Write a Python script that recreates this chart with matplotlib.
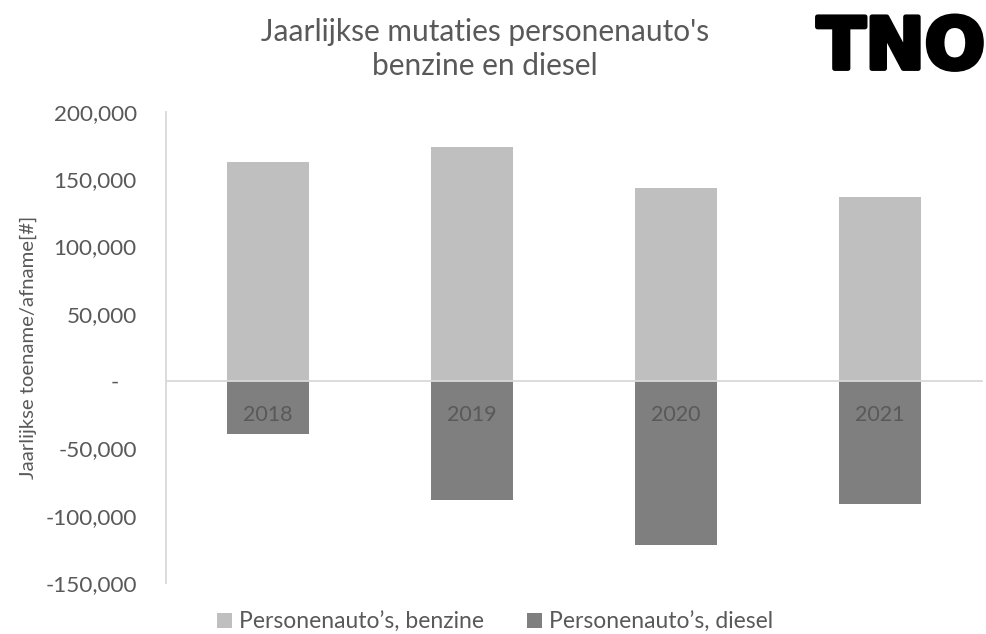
import matplotlib
matplotlib.use("Agg")
import matplotlib.pyplot as plt
import matplotlib.patheffects as pe
from matplotlib.patches import Patch
from matplotlib.ticker import FuncFormatter

# yearly change in the passenger car fleet, by fuel
years = ["2018", "2019", "2020", "2021"]
benzine = [163000, 174000, 143500, 137000]
diesel = [-39500, -88000, -121500, -91000]
series_labels = ["Personenauto’s, benzine", "Personenauto’s, diesel"]

FONT = "Lato"
TEXT = "#595959"
LIGHT = "#bfbfbf"
DARK = "#7f7f7f"
GRID = "#d9d9d9"

plt.rcParams["font.family"] = [FONT, "DejaVu Sans"]

fig = plt.figure(figsize=(9.87, 6.34), dpi=100)
ax = fig.add_axes([166 / 987, 1 - 583 / 634, 816 / 987, 471 / 634])

x = list(range(len(years)))
ax.bar(x, benzine, width=0.4, color=LIGHT, zorder=2)
ax.bar(x, diesel, width=0.4, color=DARK, zorder=2)

ax.set_xlim(-0.5, len(years) - 0.5)
ax.set_ylim(-150000, 200000)
ax.set_yticks(range(-150000, 200001, 50000))


def fmt(v, pos):
    if v == 0:
        return "-   "
    return f"{int(v):,}"


ax.yaxis.set_major_formatter(FuncFormatter(fmt))
ax.tick_params(axis="y", length=0, pad=21, labelsize=16.2, labelcolor=TEXT)

# category axis sits on zero, labels fall inside the diesel bars
ax.xaxis.set_zorder(3)
ax.spines["bottom"].set_position(("data", 0))
ax.spines["bottom"].set_color(GRID)
ax.spines["bottom"].set_linewidth(1.3)
ax.spines["bottom"].set_zorder(3)
ax.spines["left"].set_color(GRID)
ax.spines["left"].set_linewidth(1.3)
ax.spines["top"].set_visible(False)
ax.spines["right"].set_visible(False)
ax.set_xticks(x)
ax.set_xticklabels(years)
ax.tick_params(axis="x", length=0, pad=17, labelsize=15.5, labelcolor=TEXT)

ax.set_ylabel("Jaarlijkse toename/afname[#]", fontsize=14.6, color=TEXT, labelpad=6)

fig.text(485 / 987, 1 - 49 / 634,
         "Jaarlijkse mutaties personenauto's\nbenzine en diesel",
         ha="center", va="center", fontsize=21.5, color=TEXT, linespacing=1.22)

# logo
fig.text(985 / 987, 1 - 49 / 634, "TNO", ha="right", va="center",
         fontsize=51, fontweight="heavy", color="black", family="DejaVu Sans",
         path_effects=[pe.withStroke(linewidth=3.5, foreground="black")])

handles = [Patch(facecolor=LIGHT), Patch(facecolor=DARK)]
fig.legend(handles, series_labels, loc="center", ncol=2,
           bbox_to_anchor=(495 / 987, 1 - 622 / 634), frameon=False,
           fontsize=16.5, labelcolor=TEXT, handlelength=0.65, handleheight=0.65,
           handletextpad=0.3, columnspacing=1.9, borderpad=0)

fig.savefig("out.png", dpi=100)
